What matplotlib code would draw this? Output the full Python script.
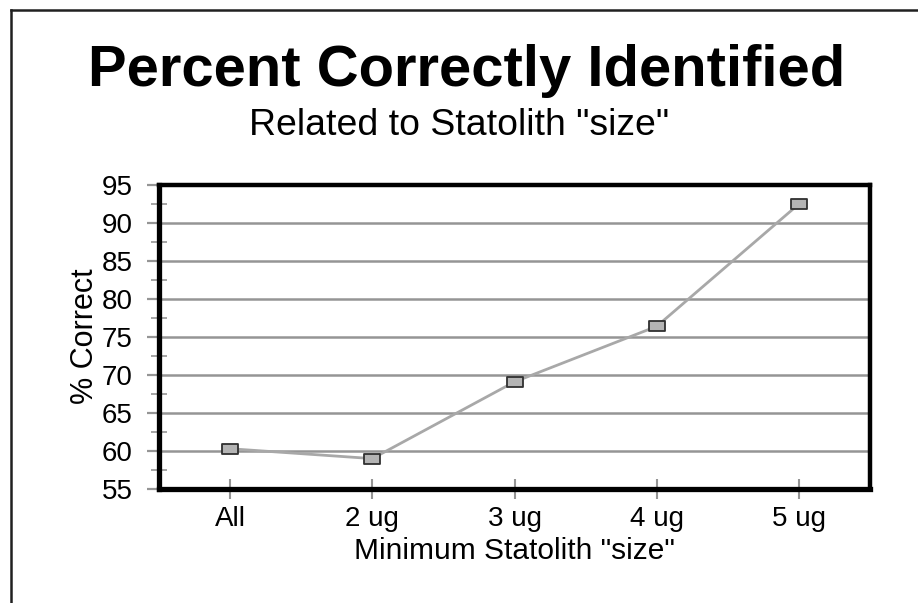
import matplotlib
matplotlib.use("Agg")
import matplotlib.pyplot as plt
from matplotlib.path import Path
from matplotlib.lines import Line2D
from matplotlib.ticker import MultipleLocator

categories = ["All", "2 ug", "3 ug", "4 ug", "5 ug"]
pct_correct = [60.3, 59.0, 69.1, 76.4, 92.5]
y_ticks = [55, 60, 65, 70, 75, 80, 85, 90, 95]

title = "Percent Correctly Identified"
subtitle = 'Related to Statolith "size"'
xlabel = 'Minimum Statolith "size"'
ylabel = "% Correct"

plt.rcParams['font.family'] = ['Liberation Sans', 'DejaVu Sans']

W, H = 918, 603
fig = plt.figure(figsize=(W / 100, H / 100), dpi=100)
fig.patch.set_facecolor('white')

ax = fig.add_axes([159 / W, 1 - 489 / H, (870 - 159) / W, (489 - 185) / H])
x = list(range(len(categories)))

rect = Path([(-1, -0.6), (1, -0.6), (1, 0.6), (-1, 0.6), (-1, -0.6)],
            [Path.MOVETO, Path.LINETO, Path.LINETO, Path.LINETO, Path.CLOSEPOLY])
ax.plot(x, pct_correct, color='#a8a8a8', lw=2.0, zorder=3,
        marker=rect, markersize=11, markerfacecolor='#b4b4b4',
        markeredgecolor='#303030', markeredgewidth=1.3)

ax.set_xlim(-0.5, len(categories) - 0.5)
ax.set_ylim(55, 95)
ax.set_yticks(y_ticks)
ax.yaxis.set_minor_locator(MultipleLocator(2.5))
ax.set_xticks(x)
ax.set_xticklabels(categories)
ax.grid(axis='y', which='major', color='#959595', lw=1.8, zorder=1)
ax.set_axisbelow(True)

for s in ['left', 'bottom']:
    ax.spines[s].set_linewidth(3.8)
for s in ['top', 'right']:
    ax.spines[s].set_linewidth(3.2)
for s in ax.spines.values():
    s.set_color('black')

ax.tick_params(axis='y', which='major', direction='out', length=9, width=1.6,
               color='#959595', labelsize=20, pad=10)
ax.tick_params(axis='y', which='minor', direction='inout', length=12, width=1.2,
               color='#959595')
ax.tick_params(axis='x', which='major', direction='inout', length=14, width=1.5,
               color='#959595', labelsize=20, pad=5)

ax.set_xlabel(xlabel, fontsize=21.5, labelpad=4)
ax.set_ylabel(ylabel, fontsize=22)
ax.yaxis.set_label_coords(-0.083, 0.503)

fig.canvas.draw()
renderer = fig.canvas.get_renderer()

def fit_text(xc, yb, s, target_w, **kw):
    t = fig.text(xc, yb, s, ha='center', va='baseline', fontsize=20, **kw)
    bb = t.get_window_extent(renderer=renderer)
    t.set_fontsize(20 * target_w / bb.width)
    return t

fit_text(467 / W, 1 - 86 / H, title, 758, fontweight='bold')
fit_text(459 / W, 1 - 135 / H, subtitle, 418)

# page border (left and top)
fig.add_artist(Line2D([11 / W, 11 / W], [0, 1 - 10 / H], transform=fig.transFigure,
                      color='#202020', lw=1.8))
fig.add_artist(Line2D([11 / W, 1], [1 - 10 / H, 1 - 10 / H], transform=fig.transFigure,
                      color='#202020', lw=1.8))

fig.savefig('out.png', dpi=100, facecolor='white')
